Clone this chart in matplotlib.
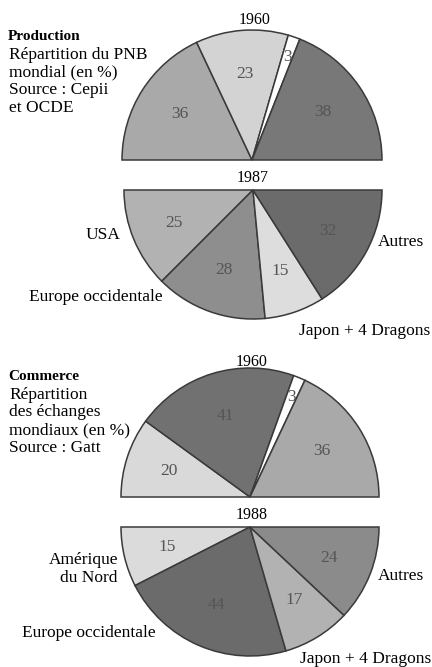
import numpy as np
import matplotlib
matplotlib.use("Agg")
import matplotlib.pyplot as plt

plt.rcParams['font.family'] = ['Liberation Serif', 'DejaVu Serif']

# ---- data (shares in %) ----
regions = ['USA', 'Europe occidentale', 'Japon + 4 Dragons', 'Autres']
prod_1960 = [36, 23, 3, 38]
prod_1987 = [25, 28, 15, 32]
prod_1960_colors = ['#a9a9a9', '#d3d3d3', '#ffffff', '#787878']
prod_1987_colors = ['#b2b2b2', '#8e8e8e', '#dddddd', '#6b6b6b']

com_regions = ['Amérique\ndu Nord', 'Europe occidentale', 'Japon + 4 Dragons', 'Autres']
com_1960 = [20, 41, 3, 36]
com_1988 = [15, 44, 17, 24]
com_1960_colors = ['#d9d9d9', '#717171', '#ffffff', '#a9a9a9']
com_1988_colors = ['#dbdbdb', '#6b6b6b', '#b2b2b2', '#8b8b8b']

W, H = 432, 667
fig = plt.figure(figsize=(W / 100, H / 100), dpi=100)
ax = fig.add_axes([0, 0, 1, 1])
fig.patch.set_facecolor('white')


def half_pie(vals, colors, cx, cy, r, upper):
    # half pie: 100% spread over 180 degrees, an invisible filler takes the other half
    if upper:
        kw = dict(startangle=180, counterclock=False)
    else:
        kw = dict(startangle=180, counterclock=True)
    wedges, _ = ax.pie(vals + [sum(vals)], colors=colors + ['none'], radius=r,
                       center=(cx, H - cy), frame=True,
                       wedgeprops=dict(edgecolor='#3a3a3a', linewidth=1.1), **kw)
    wedges[-1].set_visible(False)
    for w, v in zip(wedges[:-1], vals):
        a = np.deg2rad((w.theta1 + w.theta2) / 2)
        f = 0.84 if v < 5 else 0.66
        ax.text(cx + f * r * np.cos(a), H - cy + f * r * np.sin(a), str(v),
                ha='center', va='center', fontsize=12.5, color='#555555')


half_pie(prod_1960, prod_1960_colors, 252, 160, 130, True)
half_pie(prod_1987, prod_1987_colors, 253, 190, 129, False)
half_pie(com_1960, com_1960_colors, 250, 497, 129, True)
half_pie(com_1988, com_1988_colors, 250, 527, 129, False)

ax.set_xlim(0, W)
ax.set_ylim(0, H)
ax.axis('off')

fs = 12.5
fy = 11.5
# years
ax.text(255, H - 20, '1960', ha='center', va='center', fontsize=fy)
ax.text(253, H - 178, '1987', ha='center', va='center', fontsize=fy)
ax.text(252, H - 362, '1960', ha='center', va='center', fontsize=fy)
ax.text(252, H - 515, '1988', ha='center', va='center', fontsize=fy)

# titles
ax.text(8, H - 37, 'Production', ha='left', va='center', fontsize=11, fontweight='bold')
for i, s in enumerate(['Répartition du PNB', 'mondial (en %)', 'Source : Cepii', 'et OCDE']):
    ax.text(9, H - 55 - 17.7 * i, s, ha='left', va='center', fontsize=fs)
ax.text(8, H - 377, 'Commerce', ha='left', va='center', fontsize=11, fontweight='bold')
for i, s in enumerate(['Répartition', 'des échanges', 'mondiaux (en %)', 'Source : Gatt']):
    ax.text(9, H - 395 - 17.5 * i, s, ha='left', va='center', fontsize=fs)

# region labels, production
ax.text(120, H - 235, regions[0], ha='right', va='center', fontsize=fs)
ax.text(29, H - 297, regions[1], ha='left', va='center', fontsize=fs)
ax.text(430, H - 331, regions[2], ha='right', va='center', fontsize=fs)
ax.text(378, H - 242, regions[3], ha='left', va='center', fontsize=fs)

# region labels, commerce
ax.text(118, H - 569, com_regions[0], ha='right', va='center', fontsize=fs,
        multialignment='right', linespacing=1.25)
ax.text(22, H - 633, com_regions[1], ha='left', va='center', fontsize=fs)
ax.text(431, H - 659, com_regions[2], ha='right', va='center', fontsize=fs)
ax.text(378, H - 576, com_regions[3], ha='left', va='center', fontsize=fs)

fig.savefig('out.png', dpi=100, facecolor='white')
